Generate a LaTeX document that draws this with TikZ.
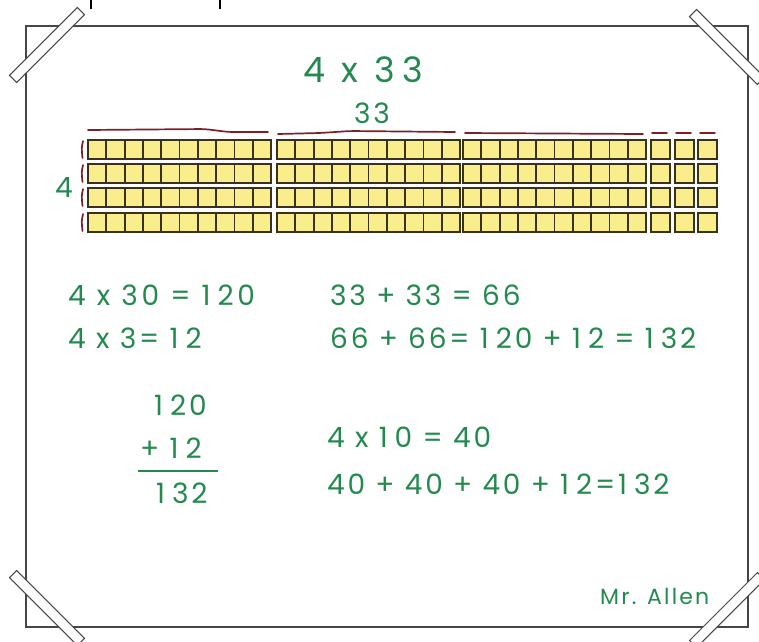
\documentclass[tikz,border=0pt]{standalone}
\usepackage{fontspec}
\newfontfamily\chalk[LetterSpace=10, Numbers=Monospaced]{Poppins}
\newfontfamily\chalkmid[LetterSpace=13, Numbers=Monospaced]{Poppins}
\newfontfamily\chalkwide[LetterSpace=20, Numbers=Monospaced]{Poppins}
\newcommand\numone{1\kern7pt}
\usetikzlibrary{positioning}
\definecolor{penGreen}{RGB}{34,138,78}
\definecolor{penRed}{RGB}{125,30,40}
\definecolor{blockYellow}{RGB}{250,238,140}
\definecolor{blockEdge}{RGB}{55,50,25}
\definecolor{frameGray}{RGB}{70,70,70}

\begin{document}
\begin{tikzpicture}[x=1pt, y=-1pt,
  mathtxt/.style={anchor=base west, inner sep=0pt, text=penGreen,
                  font=\chalk\fontsize{28}{28}\selectfont},
  unit/.style={draw=blockEdge, fill=blockYellow, line width=1.8pt},
  brace/.style={draw=penRed, line width=1.7pt, line cap=round, rounded corners=6pt},
  tape/.style={draw=frameGray, fill=white, line width=1pt,
               minimum width=96pt, minimum height=10pt, inner sep=0pt}
]
\useasboundingbox (0,0) rectangle (759,641);

% Paper
\draw[frameGray, line width=2.2pt] (26,26) rectangle (748,627);
\draw[black, line width=1.6pt] (91,0) -- (91,9);
\draw[black, line width=1.6pt] (220,0) -- (220,9);

% Tape
\node[tape, rotate=45]  (tapeNW) at (47,45)   {};
\node[tape, rotate=-45] (tapeNE) at (727,47)  {};
\node[tape, rotate=-45] (tapeSW) at (47,608)  {};
\node[tape, rotate=45]  (tapeSE) at (727,610) {};

% Title
\node[mathtxt, font=\chalkwide\fontsize{35}{35}\selectfont] (title) at (303,82) {4 x 33};

% Base-ten blocks
\foreach \ry in {140,164,188,213}{
  \foreach \rx in {88,277,463}{
    \foreach \i in {0,...,9}
      \draw[unit] (\rx+\i*18.3,\ry) rectangle ++(18.3,19);
  }
  \foreach \ox in {651,675,698}
    \draw[unit] (\ox,\ry) rectangle ++(19,19);
  \draw[brace] (83,\ry+1) .. controls (81.5,\ry+8) .. (82.5,\ry+18);
}

% Brackets
\draw[brace] (88,130) -- (205,129) -- (228,132) -- (268,132);
\draw[brace] (278,134) -- (320,133) -- (350,131) -- (455,132);
\draw[brace] (465,133) -- (643,134);
\foreach \dx in {652,676,700}
  \draw[brace] (\dx,133) -- ++(15,0);

\node[mathtxt] (topLabel)  at (354,123) {33};
\node[mathtxt] (sideLabel) at (55,197)  {4};

% Working
\node[mathtxt, font=\chalkmid\fontsize{28}{28}\selectfont] (eqA) at (68,305) {4 x 30 = \numone20};
\node[mathtxt] (eqB) at (68,348)  {4 x 3= \numone2};
\node[mathtxt] (eqC) at (330,305) {33 + 33 = 66};
\node[mathtxt] (eqD) at (330,348) {66 + 66= \numone20 + \numone2 = \numone32};

\node[mathtxt] (sumTop) at (154,415) {\numone20};
\node[mathtxt] (sumAdd) at (140,458) {+ \numone2};
\node[mathtxt] (sumRes) at (156,503) {\numone32};
\draw[penGreen, line width=1.6pt] ([xshift=-2pt, yshift=-13pt]sumAdd.base west) -- ++(80,0);

\node[mathtxt] (eqE) at (327,447) {4 x \numone0 = 40};
\node[mathtxt] (eqF) at (327,494) {40 + 40 + 40 + \numone2=\numone32};

% Signature
\node[mathtxt, font=\chalk\fontsize{22}{22}\selectfont] (signature) at (600,604) {Mr. Allen};

\end{tikzpicture}
\end{document}
